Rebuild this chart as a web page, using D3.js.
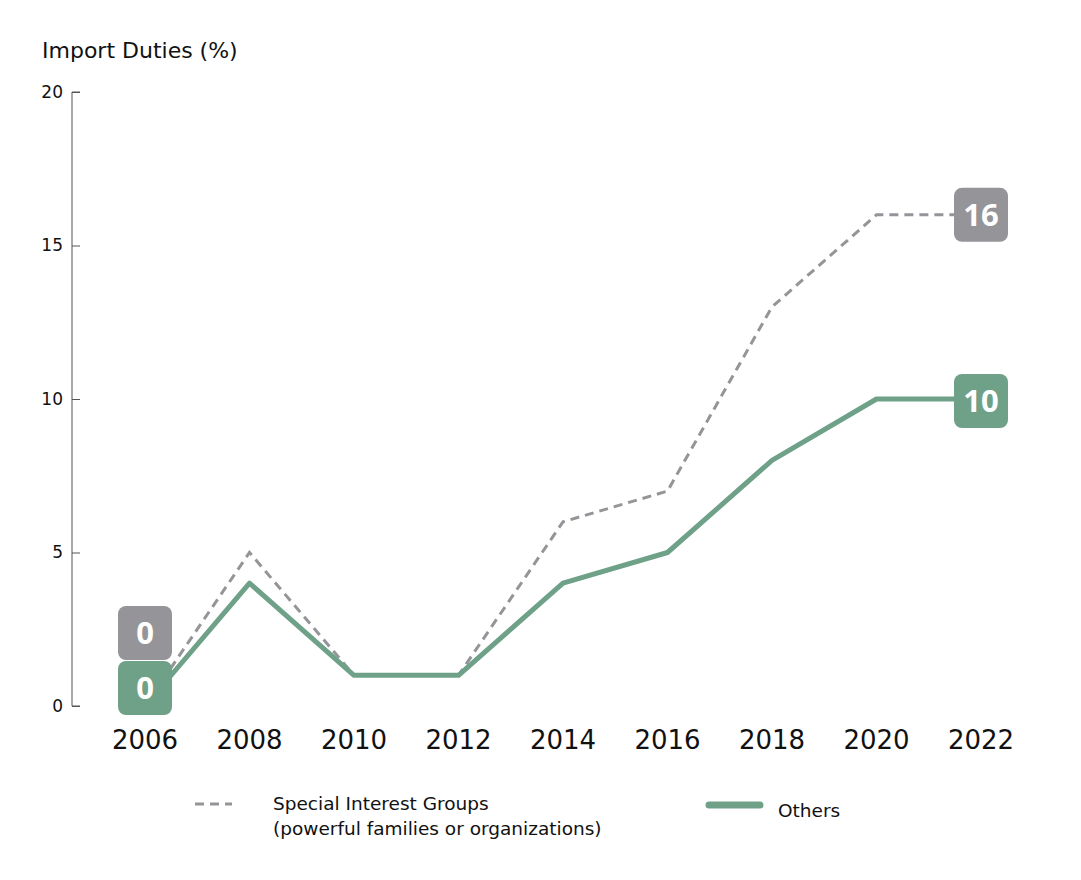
<!DOCTYPE html>
<html>
<head>
<meta charset="utf-8">
<script src="https://cdn.jsdelivr.net/npm/d3@7"></script>
<style>
  body { margin: 0; background: #fff; }
  svg { font-family: "DejaVu Sans", sans-serif; }
</style>
</head>
<body>
<svg id="chart"></svg>
<script>
const years = [2006, 2008, 2010, 2012, 2014, 2016, 2018, 2020, 2022];
const specialValues = [0, 5, 1, 1, 6, 7, 13, 16, 16];
const othersValues = [0, 4, 1, 1, 4, 5, 8, 10, 10];
const yTicks = [0, 5, 10, 15, 20];

const grey = "#949499";
const green = "#6fa189";

const width = 1081, height = 880;
const svg = d3.select("#chart").attr("width", width).attr("height", height);

const x = d3.scalePoint().domain(years).range([145, 981]);
const y = d3.scaleLinear().domain([0, 20]).range([706, 92]);

// title
svg.append("text")
  .attr("x", 42).attr("y", 58)
  .style("font-size", "22px")
  .style("fill", "#111")
  .text("Import Duties (%)");

// y axis, ticks pointing inward
const yAxis = svg.append("g")
  .attr("transform", "translate(72,0)")
  .call(d3.axisRight(y).tickValues(yTicks).tickSize(8));
yAxis.select(".domain").attr("stroke", "#555").attr("d", `M8,${y(20)}H0V${y(0)}H8`);
yAxis.selectAll(".tick line").attr("stroke", "#555");
yAxis.selectAll(".tick text")
  .attr("text-anchor", "end")
  .attr("x", -9)
  .style("font-size", "17px")
  .style("fill", "#111")
  .style("font-family", "'DejaVu Sans', sans-serif");

// x labels
svg.append("g").selectAll("text")
  .data(years)
  .join("text")
  .attr("x", d => x(d))
  .attr("y", 749)
  .attr("text-anchor", "middle")
  .style("font-size", "26px")
  .style("fill", "#111")
  .text(d => d);

const line = d3.line().x((d, i) => x(years[i])).y(d => y(d));

svg.append("path")
  .datum(specialValues)
  .attr("d", line)
  .attr("fill", "none")
  .attr("stroke", grey)
  .attr("stroke-width", 3)
  .attr("stroke-dasharray", "9,6");

svg.append("path")
  .datum(othersValues)
  .attr("d", line)
  .attr("fill", "none")
  .attr("stroke", green)
  .attr("stroke-width", 5)
  .attr("stroke-linejoin", "round");

// value badges
function badge(cx, cy, color, label) {
  const g = svg.append("g").attr("transform", `translate(${cx},${cy})`);
  g.append("rect")
    .attr("x", -27).attr("y", -27)
    .attr("width", 54).attr("height", 54)
    .attr("rx", 8)
    .attr("fill", color);
  g.append("text")
    .attr("text-anchor", "middle")
    .attr("dy", "0.36em")
    .style("font-family", "'Noto Sans', sans-serif")
    .style("font-size", "31px")
    .style("font-weight", "bold")
    .style("fill", "#fff")
    .text(label);
}
const last = years.length - 1;
badge(x(years[0]), y(othersValues[0]) - 18, green, othersValues[0]);
badge(x(years[0]), y(othersValues[0]) - 73, grey, specialValues[0]);
badge(x(years[last]), y(specialValues[last]), grey, specialValues[last]);
badge(x(years[last]), y(othersValues[last]) + 2, green, othersValues[last]);

// legend
const legend = svg.append("g");
legend.append("line")
  .attr("x1", 195).attr("x2", 232).attr("y1", 804).attr("y2", 804)
  .attr("stroke", grey).attr("stroke-width", 3).attr("stroke-dasharray", "9,6");
legend.append("text")
  .attr("x", 273).attr("y", 810)
  .style("font-size", "18.5px").style("fill", "#111")
  .text("Special Interest Groups");
legend.append("text")
  .attr("x", 273).attr("y", 835)
  .style("font-size", "18.5px").style("fill", "#111")
  .text("(powerful families or organizations)");
legend.append("line")
  .attr("x1", 709).attr("x2", 760).attr("y1", 805).attr("y2", 805)
  .attr("stroke", green).attr("stroke-width", 7).attr("stroke-linecap", "round");
legend.append("text")
  .attr("x", 778).attr("y", 817)
  .style("font-size", "18.5px").style("fill", "#111")
  .text("Others");
</script>
</body>
</html>
